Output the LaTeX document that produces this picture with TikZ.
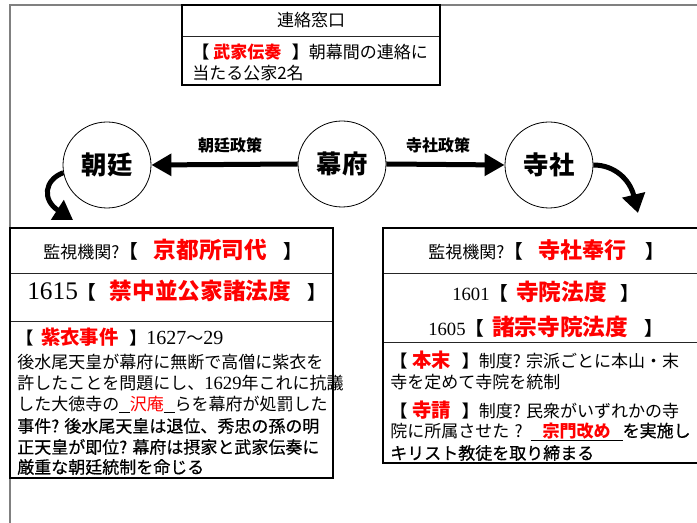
\documentclass[tikz,border=0pt]{standalone}
\usepackage{fontspec}
\usetikzlibrary{arrows.meta,shapes.geometric}
\newfontfamily\jp{Noto Sans CJK JP}
\newfontfamily\jpm[FakeBold=0.6]{Noto Sans CJK JP}
\newfontfamily\srf{Liberation Serif}
\definecolor{frameg}{RGB}{128,128,128}
\newcommand{\RedT}[2]{{\color{red}\jp\bfseries\fontsize{#1}{#1}\selectfont #2}}
\newcommand{\LBk}[1]{{\jp\bfseries\fontsize{#1}{#1}\selectfont 【}}
\newcommand{\RBk}[1]{{\jp\bfseries\fontsize{#1}{#1}\selectfont 】}}
\newcommand{\Srf}[2]{{\srf\fontsize{#1}{#1}\selectfont #2}}
\begin{document}
\begin{tikzpicture}[x=0.75pt,y=-0.75pt,
  framel/.style={draw=frameg,line width=1.5pt},
  outerbox/.style={draw=black,line width=1.3pt},
  rowbox/.style={draw=black!85,line width=0.6pt,rectangle,inner sep=0pt,outer sep=0pt,anchor=north west},
  txt/.style={anchor=west,inner sep=0pt,font=\jp\fontsize{12.75}{15}\selectfont},
  txtb/.style={anchor=west,inner sep=0pt,font=\jpm\fontsize{12.75}{15}\selectfont},
  circ/.style={draw,ellipse,line width=0.6pt,minimum width=66pt,minimum height=64.5pt,inner sep=0pt,font=\jp\bfseries\fontsize{19}{22}\selectfont},
  bigarrow/.style={line width=3.75pt,-{Triangle[length=15pt,width=16pt]}},
  curvearrow/.style={line width=3.75pt,-{Triangle[length=14pt,width=17pt]}},
  lbl/.style={font=\jp\bfseries\fontsize{12}{14}\selectfont,inner sep=0pt}]
\useasboundingbox (0,0) rectangle (697,523);
\clip (0,0) rectangle (697,523);
% frame
\draw[framel] (10,523) -- (10,5) -- (697,5);
% top box
\node[rowbox,minimum width=193.5pt,minimum height=23.25pt,font=\jp\fontsize{12.75}{15}\selectfont] (tophead) at (182,5) {連絡窓口};
\node[rowbox,minimum width=193.5pt,minimum height=36.75pt] (topbody) at (182,36) {};
\draw[outerbox] (tophead.north west) rectangle (topbody.south east);
\node[txt] (t1) at (192,52) {\LBk{12.75}\hspace{3pt}\RedT{12.75}{武家伝奏}\hspace{8pt}\RBk{12.75}朝幕間の連絡に};
\node[txt] (t2) at (192,73) {当たる公家2名};
% circles
\node[circ] (chotei) at (107,165) {朝廷};
\node[circ] (bakufu) at (342,164) {幕府};
\node[circ] (jisha) at (549,165) {寺社};
\draw[bigarrow] (bakufu.west) -- (chotei.east);
\draw[bigarrow] (bakufu.east) -- (jisha.west);
\node[lbl] (lab1) at (230,145) {朝廷政策};
\node[lbl] (lab2) at (438,145) {寺社政策};
\coordinate (ltip) at (73,220);
\coordinate (rtip) at (638,213);
\draw[curvearrow] (chotei.190) .. controls (44,180) and (42,200) .. (ltip);
\draw[curvearrow] (jisha.east) .. controls (615,165) and (630,180) .. (rtip);
% left box
\node[rowbox,minimum width=242.25pt,minimum height=33.75pt] (lrow1) at (10,228) {};
\node[rowbox,minimum width=242.25pt,minimum height=36pt] (lrow2) at (10,273) {};
\node[rowbox,minimum width=242.25pt,minimum height=117.75pt] (lrow3) at (10,321) {};
\draw[outerbox] (lrow1.north west) rectangle (lrow3.south east);
\node[txt] (la1) at (43,250) {監視機関?\LBk{14}\hspace{12pt}\RedT{17}{京都所司代}\hspace{12pt}\RBk{14}};
\node[txt] (la2) at (27,291) {\Srf{19}{1615}\LBk{14}\hspace{10pt}\RedT{17}{禁中並公家諸法度}\hspace{12pt}\RBk{14}};
\node[txt] (lb1) at (16,337) {\LBk{12.75}\hspace{6pt}\RedT{14.5}{紫衣事件}\hspace{8pt}\RBk{12.75}\Srf{15}{1627}～\Srf{15}{29}};
\node[txt] (lb2) at (17,362) {後水尾天皇が幕府に無断で高僧に紫衣を};
\node[txt] (lb3) at (17,383) {許したことを問題にし、\Srf{14}{1629}年これに抗議};
\node[txt] (lb4) at (17,405) {した大徳寺の\underline{\hspace{8pt}}{\color{red}沢庵}\underline{\hspace{8pt}}らを幕府が処罰した};
\node[txtb] (lb5) at (17,426) {事件? 後水尾天皇は退位、秀忠の孫の明};
\node[txtb] (lb6) at (17,447) {正天皇が即位? 幕府は摂家と武家伝奏に};
\node[txtb] (lb7) at (17,467) {厳重な朝廷統制を命じる};
% right box
\node[rowbox,minimum width=252.75pt,minimum height=33.75pt] (rrow1) at (383,228) {};
\node[rowbox,minimum width=252.75pt,minimum height=51.75pt] (rrow2) at (383,273) {};
\node[rowbox,minimum width=252.75pt,minimum height=90.75pt] (rrow3) at (383,342) {};
\draw[outerbox] (rrow1.north west) rectangle (rrow3.south east);
\node[txt] (ra1) at (428,250) {監視機関?\LBk{14}\hspace{12pt}\RedT{16.5}{寺社奉行}\hspace{14pt}\RBk{14}};
\node[txt] (ra2) at (452,292) {\Srf{14}{1601}\LBk{14}\hspace{6pt}\RedT{17}{寺院法度}\hspace{10pt}\RBk{14}};
\node[txt] (ra3) at (428,327) {\Srf{14}{1605}\LBk{14}\hspace{6pt}\RedT{17}{諸宗寺院法度}\hspace{12pt}\RBk{14}};
\node[txt] (rb1) at (390,360) {\LBk{12.75}\hspace{4pt}\RedT{14.5}{本末}\hspace{8pt}\RBk{12.75}制度? 宗派ごとに本山・末};
\node[txt] (rb2) at (390,382) {寺を定めて寺院を統制};
\node[txt] (rb3) at (390,410) {\LBk{12.75}\hspace{4pt}\RedT{14.5}{寺請}\hspace{8pt}\RBk{12.75}制度? 民衆がいずれかの寺};
\node[txt] (rb4) at (390,432) {院に所属させた\hspace{4pt}?\hspace{6pt}\underline{\hspace{9pt}\RedT{12.75}{宗門改め}\hspace{9pt}}{\jpm を実施し}};
\node[txtb] (rb5) at (390,453) {キリスト教徒を取り締まる};
\end{tikzpicture}
\end{document}
